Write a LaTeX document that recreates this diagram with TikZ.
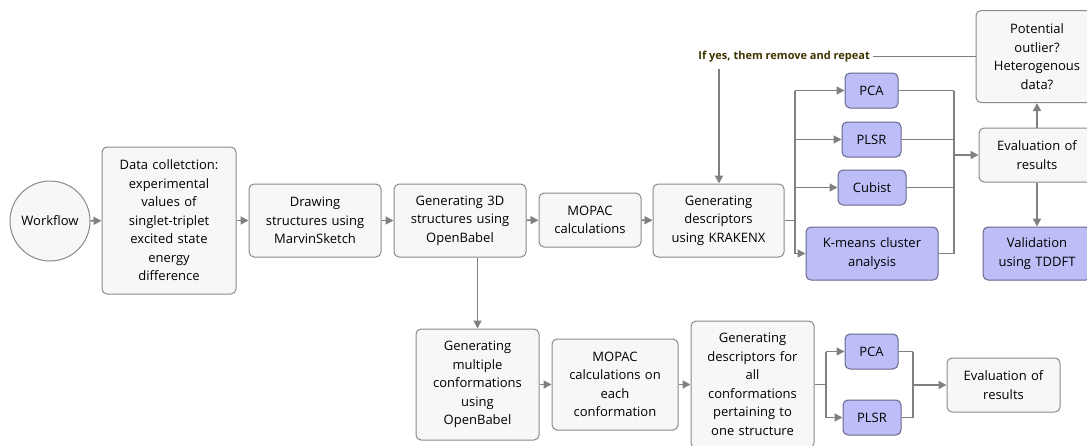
\documentclass[tikz,border=0pt]{standalone}
\usepackage{fontspec}
\setmainfont{Open Sans}
\usetikzlibrary{arrows.meta,calc}
\definecolor{boxfill}{HTML}{F7F7F7}
\definecolor{boxdraw}{HTML}{8A8A8A}
\definecolor{bluefill}{HTML}{BDBEF8}
\definecolor{bluedraw}{HTML}{66668C}
\definecolor{linec}{HTML}{808080}
\definecolor{labelc}{HTML}{3D3500}
\tikzset{
  graybox/.style={draw=boxdraw, fill=boxfill, line width=1pt, rounded corners=5pt,
    align=center, inner sep=2pt, font=\fontsize{13}{18.5}\selectfont},
  bluebox/.style={graybox, draw=bluedraw, fill=bluefill},
  conn/.style={draw=linec, line width=1.6pt, -{Triangle[length=8pt,width=8pt]}},
  plain/.style={draw=linec, line width=1.6pt},
}
\begin{document}
\begin{tikzpicture}[x=1pt,y=-1pt]
\useasboundingbox (0,0) rectangle (1087,445);
\fill[white] (0,0) rectangle (1087,445);
% top row
\node[draw=boxdraw, fill=boxfill, line width=1pt, circle, minimum size=80pt, inner sep=0pt,
  font=\fontsize{13}{18.5}\selectfont] (wf) at (50,221) {Workflow};
\node[graybox, minimum width=134pt, minimum height=147pt, text width=128pt] (dc) at (169,220.5)
  {Data colletction:\\experimental\\values of\\singlet-triplet\\excited state\\energy\\difference};
\node[graybox, minimum width=132pt, minimum height=73pt, text width=126pt] (ds) at (315,220.5)
  {Drawing\\structures using\\MarvinSketch};
\node[graybox, minimum width=132pt, minimum height=73pt, text width=126pt] (g3d) at (460,220.5)
  {Generating 3D\\structures using\\OpenBabel};
\node[graybox, minimum width=102pt, minimum height=54pt, text width=96pt] (mopac) at (590,220)
  {MOPAC\\calculations};
\node[graybox, minimum width=131pt, minimum height=73pt, text width=125pt] (krak) at (718.5,220.5)
  {Generating\\descriptors\\using KRAKENX};
\node[bluebox, minimum width=53pt, minimum height=35pt] (pca1) at (871.5,90.5) {PCA};
\node[bluebox, minimum width=59pt, minimum height=35pt] (plsr1) at (871.5,139.5) {PLSR};
\node[bluebox, minimum width=68pt, minimum height=35pt] (cub) at (872,187.5) {Cubist};
\node[bluebox, minimum width=132pt, minimum height=53pt, text width=126pt] (km) at (872,253.5)
  {K-means cluster\\analysis};
\node[graybox, minimum width=116pt, minimum height=54pt, text width=110pt] (eval1) at (1037,155)
  {Evaluation of\\results};
\node[graybox, minimum width=122pt, minimum height=92pt, text width=116pt] (pot) at (1037,56.5)
  {Potential\\outlier?\\Heterogenous\\data?};
\node[bluebox, minimum width=108pt, minimum height=53pt, text width=102pt] (val) at (1037,253.5)
  {Validation\\using TDDFT};
\node[font=\bfseries\fontsize{11}{12}\selectfont, text=labelc, inner sep=3pt, anchor=east] (lab) at (873,56.5)
  {If yes, them remove and repeat};
\coordinate (labdown) at (719,69);
% bottom row
\node[graybox, minimum width=123pt, minimum height=111pt, text width=117pt] (gm) at (477.5,384.5)
  {Generating\\multiple\\conformations\\using\\OpenBabel};
\node[graybox, minimum width=126pt, minimum height=91pt, text width=120pt] (me) at (615,384.5)
  {MOPAC\\calculations on\\each\\conformation};
\node[graybox, minimum width=123pt, minimum height=127pt, text width=117pt] (gda) at (752.5,384.5)
  {Generating\\descriptors for\\all\\conformations\\pertaining to\\one structure};
\node[bluebox, minimum width=53pt, minimum height=35pt] (pca2) at (871.5,351.5) {PCA};
\node[bluebox, minimum width=58pt, minimum height=35pt] (plsr2) at (872,417.5) {PLSR};
\node[graybox, minimum width=113pt, minimum height=54pt, text width=107pt] (eval2) at (1003.5,385)
  {Evaluation of\\results};
% connectors top row
\draw[conn] (wf) -- (dc);
\draw[conn] (dc) -- (ds);
\draw[conn] (ds) -- (g3d);
\draw[conn] (g3d) -- (mopac);
\draw[conn] (mopac) -- (krak);
\coordinate (s1) at (795,220.5);
\draw[plain] (krak.east) -- (s1);
\draw[plain] (795,90.5) -- (795,253.5);
\draw[conn] (795,90.5) -- (pca1.west);
\draw[conn] (795,139.5) -- (plsr1.west);
\draw[conn] (795,187.5) -- (cub.west);
\draw[conn] (795,253.5) -- (km.west);
\coordinate (m1) at (954,155);
\draw[plain] (pca1.east) -- (954,90.5);
\draw[plain] (plsr1.east) -- (954,139.5);
\draw[plain] (cub.east) -- (954,187.5);
\draw[plain] (km.east) -- (954,253.5);
\draw[plain] (954,90.5) -- (954,253.5);
\draw[conn] (m1) -- (eval1.west);
\draw[conn] (eval1) -- (pot);
\draw[conn] (eval1) -- (val);
\draw[plain] (pot.west) -- (lab.east);
\draw[conn] (labdown) -- (labdown |- krak.north);
% vertical to bottom row
\draw[conn] (gm.north |- g3d.south) -- (gm.north);
% bottom row connectors
\draw[conn] (gm) -- (me);
\draw[conn] (me) -- (gda);
\coordinate (s2) at (826,384.5);
\draw[plain] (gda.east) -- (s2);
\draw[plain] (826,351.5) -- (826,417.5);
\draw[conn] (826,351.5) -- (pca2.west);
\draw[conn] (826,417.5) -- (plsr2.west);
\coordinate (m2) at (913,385);
\draw[plain] (pca2.east) -- (913,351.5);
\draw[plain] (plsr2.east) -- (913,417.5);
\draw[plain] (913,351.5) -- (913,417.5);
\draw[conn] (m2) -- (eval2.west);
\end{tikzpicture}
\end{document}
